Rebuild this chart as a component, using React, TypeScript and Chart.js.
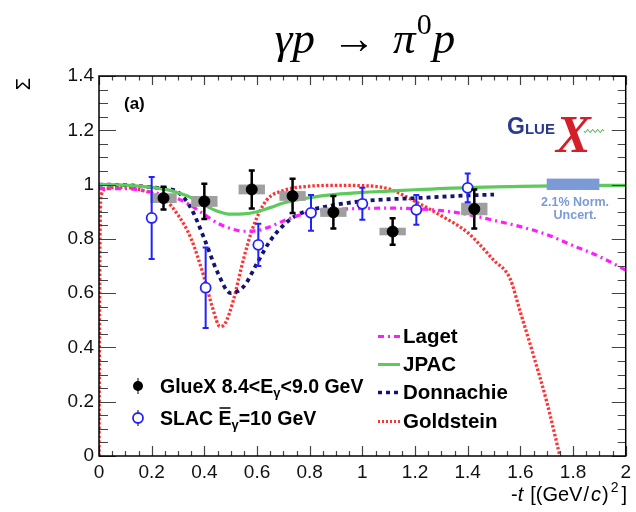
import React, { useEffect, useRef } from "react";
import { Chart, registerables } from "chart.js";

Chart.register(...registerables);

// ---------------- data ----------------
const xTickValues = [0, 0.2, 0.4, 0.6, 0.8, 1, 1.2, 1.4, 1.6, 1.8, 2];
const xTickLabels = ["0", "0.2", "0.4", "0.6", "0.8", "1", "1.2", "1.4", "1.6", "1.8", "2"];
const yTickValues = [0, 0.2, 0.4, 0.6, 0.8, 1, 1.2, 1.4];
const yTickLabels = ["0", "0.2", "0.4", "0.6", "0.8", "1", "1.2", "1.4"];

// GlueX 8.4 < E < 9.0 GeV
const gluexT = [0.245, 0.4, 0.58, 0.735, 0.89, 1.115, 1.425];
const gluexS = [0.95, 0.938, 0.982, 0.958, 0.898, 0.827, 0.91];
const gluexErr = [0.042, 0.065, 0.07, 0.063, 0.06, 0.049, 0.072];
const gluexSys = [0.018, 0.02, 0.018, 0.018, 0.017, 0.014, 0.023];
const gluexBinHalf = [0.05, 0.05, 0.05, 0.05, 0.05, 0.05, 0.05];

// SLAC 10 GeV
const slacT = [0.2, 0.405, 0.605, 0.805, 1.0, 1.205, 1.4];
const slacS = [0.877, 0.62, 0.778, 0.896, 0.929, 0.907, 0.988];
const slacErr = [0.151, 0.148, 0.078, 0.066, 0.059, 0.055, 0.053];

// Normalisation uncertainty band
const normT = [1.7, 1.9];
const normS = [0.98, 1.022];

// Model curves
const lagetT = [0, 0.1, 0.2, 0.25, 0.3, 0.35, 0.4, 0.45, 0.5, 0.55, 0.6, 0.65, 0.7, 0.75, 0.8, 0.9, 1.0, 1.1, 1.2, 1.3, 1.4, 1.5, 1.6, 1.7, 1.8, 1.9, 2.0];
const lagetS = [0.985, 0.985, 0.972, 0.962, 0.948, 0.922, 0.89, 0.858, 0.838, 0.828, 0.83, 0.845, 0.866, 0.884, 0.898, 0.908, 0.912, 0.913, 0.911, 0.904, 0.89, 0.868, 0.845, 0.816, 0.775, 0.735, 0.685];

const jpacT = [0, 0.1, 0.2, 0.25, 0.3, 0.35, 0.4, 0.45, 0.5, 0.55, 0.6, 0.65, 0.7, 0.8, 0.9, 1.0, 1.1, 1.2, 1.4, 1.6, 1.8, 2.0];
const jpacS = [1.0, 0.998, 0.99, 0.983, 0.97, 0.952, 0.925, 0.902, 0.891, 0.892, 0.9, 0.915, 0.932, 0.952, 0.964, 0.971, 0.976, 0.981, 0.989, 0.993, 0.996, 0.997];

const donnT = [0, 0.1, 0.2, 0.25, 0.3, 0.35, 0.4, 0.45, 0.5, 0.55, 0.6, 0.65, 0.7, 0.75, 0.8, 0.85, 0.9, 1.0, 1.1, 1.2, 1.3, 1.4, 1.5];
const donnS = [1.0, 0.998, 0.99, 0.985, 0.972, 0.912, 0.8, 0.677, 0.6, 0.625, 0.71, 0.793, 0.85, 0.887, 0.905, 0.917, 0.926, 0.939, 0.946, 0.95, 0.955, 0.96, 0.963];

const goldT = [0, 0.003, 0.008, 0.03, 0.06, 0.1, 0.15, 0.2, 0.25, 0.3, 0.35, 0.4, 0.43, 0.46, 0.48, 0.51, 0.55, 0.585, 0.635, 0.7, 0.8, 0.9, 1.0, 1.1, 1.2, 1.3, 1.4, 1.5, 1.56, 1.6, 1.65, 1.7, 1.75, 1.78];
const goldS = [0.0, 0.7, 0.96, 0.985, 0.99, 0.99, 0.982, 0.968, 0.945, 0.888, 0.8, 0.655, 0.55, 0.477, 0.49, 0.573, 0.73, 0.843, 0.941, 0.978, 0.994, 0.997, 0.996, 0.984, 0.938, 0.885, 0.823, 0.72, 0.655, 0.53, 0.37, 0.2, 0.0, -0.12];

// ---------------- styling ----------------
const SANS = "'Liberation Sans', Arial, Helvetica, sans-serif";
const SERIF = "'Liberation Serif', 'Times New Roman', serif";
const C_LAGET = "#ff1cff";
const C_JPAC = "#5ccb5c";
const C_DONN = "#14146e";
const C_GOLD = "#ff3333";
const C_SLAC = "#2222ff";
const C_NORM = "#7b9ad6";

const pts = (xs: number[], ys: number[]) => xs.map((x, i) => ({ x, y: ys[i] }));

type Seg = { t: string; font: string; dy?: number; gap?: number; over?: boolean };

function drawRich(ctx: CanvasRenderingContext2D, x: number, y: number, segs: Seg[], align: "left" | "right" | "center" = "left") {
  let w = 0;
  segs.forEach((s) => {
    ctx.font = s.font;
    w += ctx.measureText(s.t).width + (s.gap || 0);
  });
  let cx = align === "right" ? x - w : align === "center" ? x - w / 2 : x;
  ctx.textAlign = "left";
  ctx.textBaseline = "alphabetic";
  segs.forEach((s) => {
    ctx.font = s.font;
    const mw = ctx.measureText(s.t).width;
    ctx.fillText(s.t, cx, y + (s.dy || 0));
    if (s.over) {
      ctx.save();
      ctx.lineWidth = 1.5;
      ctx.strokeStyle = ctx.fillStyle as string;
      ctx.beginPath();
      ctx.moveTo(cx + 1, y - 17);
      ctx.lineTo(cx + mw - 1, y - 17);
      ctx.stroke();
      ctx.restore();
    }
    cx += mw + (s.gap || 0);
  });
}

function drawErrBars(ctx: CanvasRenderingContext2D, xs: any, ys: any, T: number[], S: number[], E: number[], color: string, lw: number) {
  ctx.save();
  ctx.strokeStyle = color;
  ctx.lineWidth = lw;
  ctx.lineCap = "butt";
  T.forEach((t, i) => {
    const px = xs.getPixelForValue(t);
    const top = ys.getPixelForValue(S[i] + E[i]);
    const bot = ys.getPixelForValue(S[i] - E[i]);
    ctx.beginPath();
    ctx.moveTo(px, top);
    ctx.lineTo(px, bot);
    ctx.moveTo(px - 3, top);
    ctx.lineTo(px + 3, top);
    ctx.moveTo(px - 3, bot);
    ctx.lineTo(px + 3, bot);
    ctx.stroke();
  });
  ctx.restore();
}

const decorPlugin = {
  id: "decor",
  beforeDatasetDraw(chart: any, args: any) {
    const ctx = chart.ctx as CanvasRenderingContext2D;
    const xs = chart.scales.x;
    const ys = chart.scales.y;
    if (args.index === 1) {
      ctx.save();
      ctx.fillStyle = "#9f9f9f";
      gluexT.forEach((t, i) => {
        const l = xs.getPixelForValue(t - gluexBinHalf[i]);
        const r = xs.getPixelForValue(t + gluexBinHalf[i]);
        const tp = ys.getPixelForValue(gluexS[i] + gluexSys[i]);
        const bt = ys.getPixelForValue(gluexS[i] - gluexSys[i]);
        ctx.fillRect(l, tp, r - l, bt - tp);
      });
      ctx.restore();
      drawErrBars(ctx, xs, ys, slacT, slacS, slacErr, C_SLAC, 2);
    }
    if (args.index === 0) {
      drawErrBars(ctx, xs, ys, gluexT, gluexS, gluexErr, "#000", 2.5);
    }
  },
  afterDatasetsDraw(chart: any) {
    const ctx = chart.ctx as CanvasRenderingContext2D;
    const xs = chart.scales.x;
    const ys = chart.scales.y;
    ctx.save();
    const l = xs.getPixelForValue(normT[0]);
    const r = xs.getPixelForValue(normT[1]);
    const tp = ys.getPixelForValue(normS[1]);
    const bt = ys.getPixelForValue(normS[0]);
    ctx.fillStyle = C_NORM;
    ctx.fillRect(l, tp, r - l, bt - tp);
    ctx.font = `bold 12.5px ${SANS}`;
    ctx.textAlign = "center";
    ctx.textBaseline = "middle";
    ctx.fillText("2.1% Norm.", (l + r) / 2 + 2, 203);
    ctx.fillText("Uncert.", (l + r) / 2 + 2, 215.5);
    ctx.restore();
  },
  afterDraw(chart: any) {
    const ctx = chart.ctx as CanvasRenderingContext2D;
    const xs = chart.scales.x;
    const ys = chart.scales.y;
    const a = chart.chartArea;
    ctx.save();

    // ticks (inside, ROOT style)
    ctx.strokeStyle = "#444";
    ctx.lineWidth = 1.2;
    ctx.beginPath();
    for (let k = 0; k < xTickValues.length; k++) {
      const v0 = xTickValues[k];
      const last = k === xTickValues.length - 1;
      const sub = last ? 1 : 4;
      for (let j = 0; j < sub; j++) {
        const v = last ? v0 : v0 + ((xTickValues[k + 1] - v0) * j) / 4;
        const px = Math.round(xs.getPixelForValue(v)) + 0.5;
        const major = j === 0;
        ctx.moveTo(px, a.bottom);
        ctx.lineTo(px, a.bottom - (major ? 10 : 5));
        ctx.moveTo(px, a.top);
        ctx.lineTo(px, a.top + (major ? 9 : 4.5));
      }
    }
    for (let k = 0; k < yTickValues.length; k++) {
      const v0 = yTickValues[k];
      const last = k === yTickValues.length - 1;
      const sub = last ? 1 : 4;
      for (let j = 0; j < sub; j++) {
        const v = last ? v0 : v0 + ((yTickValues[k + 1] - v0) * j) / 4;
        const py = Math.round(ys.getPixelForValue(v)) + 0.5;
        const major = j === 0;
        ctx.moveTo(a.left, py);
        ctx.lineTo(a.left + (major ? 17 : 9), py);
        ctx.moveTo(a.right, py);
        ctx.lineTo(a.right - (major ? 14 : 8), py);
      }
    }
    ctx.stroke();

    // frame
    ctx.strokeStyle = "#000";
    ctx.lineWidth = 1.5;
    ctx.strokeRect(a.left, a.top, a.right - a.left, a.bottom - a.top);

    // title
    ctx.fillStyle = "#000";
    drawRich(ctx, 365, 53, [
      { t: "γp", font: `italic 45px ${SERIF}`, gap: 17 },
      { t: "→", font: `44px ${SERIF}`, gap: 17 },
      { t: "π", font: `italic 45px ${SERIF}`, gap: 1 },
      { t: "0", font: `30px ${SERIF}`, dy: -19, gap: 1 },
      { t: "p", font: `italic 45px ${SERIF}` },
    ], "center");

    // axis titles
    drawRich(ctx, 627, 501, [
      { t: "-", font: `20px ${SANS}` },
      { t: "t", font: `italic 20px ${SANS}`, gap: 7 },
      { t: "[(GeV", font: `20px ${SANS}`, gap: 1 },
      { t: "/", font: `20px ${SANS}`, gap: 2 },
      { t: "c", font: `italic 20px ${SANS}`, gap: 1 },
      { t: ")", font: `20px ${SANS}`, gap: 2 },
      { t: "2", font: `14px ${SANS}`, dy: -9, gap: 3 },
      { t: "]", font: `20px ${SANS}` },
    ], "right");

    ctx.save();
    ctx.translate(24, 84);
    ctx.rotate(-Math.PI / 2);
    ctx.font = `20px ${SANS}`;
    ctx.textAlign = "center";
    ctx.textBaseline = "middle";
    ctx.fillText("Σ", 0, 0);
    ctx.restore();

    // (a)
    ctx.font = `bold 17px ${SANS}`;
    ctx.textAlign = "left";
    ctx.textBaseline = "alphabetic";
    ctx.fillText("(a)", 124, 109);

    // GlueX logo
    ctx.fillStyle = "#2b3a8f";
    drawRich(ctx, 507, 134, [
      { t: "G", font: `bold 23px ${SANS}`, gap: 0 },
      { t: "LUE", font: `bold 15px ${SANS}` },
    ]);
    ctx.fillStyle = "#d41f2a";
    ctx.font = `italic bold 52px ${SERIF}`;
    ctx.fillText("X", 556, 152);
    ctx.strokeStyle = "#4caf50";
    ctx.lineWidth = 1;
    ctx.beginPath();
    for (let i = 0; i <= 20; i++) {
      const px = 584 + i;
      const py = 131 + 1.6 * Math.sin((i / 5) * 2 * Math.PI);
      if (i === 0) ctx.moveTo(px, py);
      else ctx.lineTo(px, py);
    }
    ctx.stroke();

    // data legend (left)
    ctx.strokeStyle = "#555";
    ctx.lineWidth = 1.5;
    ctx.beginPath();
    ctx.moveTo(138, 378);
    ctx.lineTo(138, 394);
    ctx.moveTo(138, 410);
    ctx.lineTo(138, 426);
    ctx.stroke();
    ctx.fillStyle = "#000";
    ctx.beginPath();
    ctx.arc(138, 386, 5, 0, Math.PI * 2);
    ctx.fill();
    ctx.fillStyle = "#fff";
    ctx.strokeStyle = C_SLAC;
    ctx.lineWidth = 1.8;
    ctx.beginPath();
    ctx.arc(138, 418, 5, 0, Math.PI * 2);
    ctx.fill();
    ctx.stroke();

    ctx.fillStyle = "#000";
    drawRich(ctx, 160, 393, [
      { t: "GlueX 8.4<E", font: `bold 19.5px ${SANS}` },
      { t: "γ", font: `bold 13px ${SANS}`, dy: 4 },
      { t: "<9.0 GeV", font: `bold 19.5px ${SANS}` },
    ]);
    drawRich(ctx, 160, 425, [
      { t: "SLAC ", font: `bold 19.5px ${SANS}` },
      { t: "E", font: `bold 19.5px ${SANS}`, over: true },
      { t: "γ", font: `bold 13px ${SANS}`, dy: 4 },
      { t: "=10 GeV", font: `bold 19.5px ${SANS}` },
    ]);

    // model legend (right)
    const items: [string, string, number[], number, number][] = [
      ["Laget", C_LAGET, [6, 4, 2, 4], 3, 336.5],
      ["JPAC", C_JPAC, [], 3, 364.5],
      ["Donnachie", C_DONN, [4, 4], 3.5, 392.5],
      ["Goldstein", C_GOLD, [2, 2], 3, 421.5],
    ];
    items.forEach(([name, col, dash, lw, yy]) => {
      ctx.save();
      ctx.strokeStyle = col;
      ctx.lineWidth = lw;
      ctx.setLineDash(dash);
      ctx.beginPath();
      ctx.moveTo(378, yy);
      ctx.lineTo(400, yy);
      ctx.stroke();
      ctx.restore();
      ctx.fillStyle = "#000";
      ctx.font = `bold 20.5px ${SANS}`;
      ctx.textAlign = "left";
      ctx.textBaseline = "middle";
      ctx.fillText(name, 403, yy + 1);
    });

    ctx.restore();
  },
};

export default function App() {
  const ref = useRef<HTMLCanvasElement | null>(null);
  useEffect(() => {
    if (!ref.current) return;
    const line = (label: string, T: number[], S: number[], color: string, width: number, dash: number[]) => ({
      label,
      data: pts(T, S),
      showLine: true,
      pointRadius: 0,
      borderColor: color,
      backgroundColor: color,
      borderWidth: width,
      borderDash: dash,
      borderCapStyle: "butt" as const,
      fill: false,
      cubicInterpolationMode: "monotone" as const,
    });
    const chart = new Chart(ref.current, {
      type: "scatter",
      data: {
        datasets: [
          {
            label: "GlueX",
            data: pts(gluexT, gluexS),
            showLine: false,
            pointRadius: 5.5,
            pointBackgroundColor: "#000",
            pointBorderColor: "#000",
            pointBorderWidth: 1,
          },
          {
            label: "SLAC",
            data: pts(slacT, slacS),
            showLine: false,
            pointRadius: 5,
            pointBackgroundColor: "#fff",
            pointBorderColor: C_SLAC,
            pointBorderWidth: 1.8,
          },
          line("Laget", lagetT, lagetS, C_LAGET, 3.2, [6, 4, 2, 4]),
          line("JPAC", jpacT, jpacS, C_JPAC, 3.2, []),
          line("Donnachie", donnT, donnS, C_DONN, 3.8, [4, 4]),
          line("Goldstein", goldT, goldS, C_GOLD, 3.3, [2.5, 2]),
        ] as any,
      },
      options: {
        responsive: false,
        animation: false,
        events: [],
        layout: { padding: { top: 76, right: 6, left: 0, bottom: 0 } },
        plugins: {
          legend: { display: false },
          tooltip: { enabled: false },
          title: { display: false },
        },
        scales: {
          x: {
            type: "linear",
            min: 0,
            max: 2,
            position: "bottom",
            afterFit: (s: any) => {
              s.height = 56;
            },
            afterBuildTicks: (s: any) => {
              s.ticks = xTickValues.map((v) => ({ value: v }));
            },
            ticks: {
              callback: (_v: any, i: number) => xTickLabels[i],
              font: { family: SANS, size: 19 },
              color: "#111",
              padding: 5,
              maxRotation: 0,
              autoSkip: false,
            },
            grid: { display: false, drawTicks: false },
            border: { display: false },
          },
          y: {
            type: "linear",
            min: 0,
            max: 1.4,
            afterFit: (s: any) => {
              s.width = 99;
            },
            afterBuildTicks: (s: any) => {
              s.ticks = yTickValues.map((v) => ({ value: v }));
            },
            ticks: {
              callback: (_v: any, i: number) => yTickLabels[i],
              font: { family: SANS, size: 19 },
              color: "#111",
              padding: 5,
              autoSkip: false,
            },
            grid: { display: false, drawTicks: false },
            border: { display: false },
          },
        },
      } as any,
      plugins: [decorPlugin],
    });
    return () => chart.destroy();
  }, []);
  return (
    <div style={{ position: "absolute", left: 0, top: 0, width: 636, height: 512, background: "#fff" }}>
      <canvas ref={ref} width={636} height={512} style={{ display: "block" }} />
    </div>
  );
}
